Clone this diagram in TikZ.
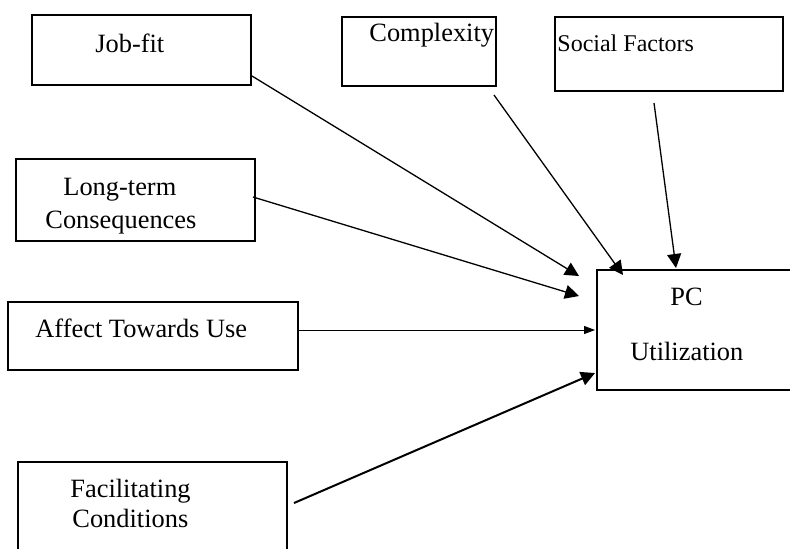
\documentclass[tikz,border=0pt]{standalone}
\usepackage{fontspec}
\setmainfont{Liberation Serif}
\usetikzlibrary{arrows.meta,calc}
\begin{document}
\begin{tikzpicture}[x=0.5pt,y=-0.5pt,
  box/.style={draw=black,line width=1pt,rectangle,inner sep=0pt,fill=none},
  lbl/.style={anchor=base west,inner sep=0pt,font=\fontsize{13.2}{15}\selectfont},
  lblsmall/.style={anchor=base west,inner sep=0pt,font=\fontsize{12}{14}\selectfont},
  link/.style={line width=0.65pt,-{Triangle[length=7pt,width=7pt]}},
  thinlink/.style={line width=0.5pt,-{Triangle[length=5.5pt,width=4pt]}},
  boldlink/.style={line width=1pt,-{Triangle[length=7pt,width=7pt]}}]
\useasboundingbox (0,0) rectangle (790,548);
\clip (0,0) rectangle (790,548);
\fill[white] (0,0) rectangle (790,548);

% construct boxes
\node[box,minimum width=109.5pt,minimum height=35pt] (jf) at (141.5,50) {};
\node[box,minimum width=77pt,minimum height=34.5pt] (cx) at (419,51.5) {};
\node[box,minimum width=114pt,minimum height=37pt] (sf) at (669,54) {};
\node[box,minimum width=119.5pt,minimum height=41pt] (lt) at (135.5,200) {};
\node[box,minimum width=145pt,minimum height=34pt] (au) at (153,336) {};
\node[box,minimum width=134.5pt,minimum height=49pt] (fc) at (152.5,511) {};
\node[box,minimum width=101.5pt,minimum height=60pt] (pc) at (698.5,330) {};

% box labels
\node[lbl] (jft) at (95,52) {Job-fit};
\node[lbl] (cxt) at (369,41) {Complexity};
\node[lblsmall] (sft) at (557,51) {Social Factors};
\node[lbl] (lt1) at (63,195) {Long-term};
\node[lbl] (lt2) at (45,228) {Consequences};
\node[lbl] (aut) at (35,337) {Affect Towards Use};
\node[lbl] (fc1) at (70,497) {Facilitating};
\node[lbl] (fc2) at (72,527) {Conditions};
\node[lbl] (pc1) at (670,305) {PC};
\node[lbl] (pc2) at (630,360) {Utilization};

% paths into PC Utilization
\draw[link] ($(jf.south east)+(0,-10)$) -- ($(pc.north west)+(-17,7)$);
\draw[link] ($(lt.east)+(-3,-3)$) -- ($(pc.north west)+(-17,27)$);
\draw[thinlink] ($(au.east)+(0,-6)$) -- ($(pc.west)+(-1,0)$);
\draw[boldlink] ($(fc.east)+(6,-8)$) -- ($(pc.south west)+(-1,-18)$);
\draw[link] ($(cx.south east)+(-3,8)$) -- ($(pc.north west)+(27,6)$);
\draw[link] ($(sf.south)+(-15,11)$) -- ($(pc.north west)+(80,-1)$);
\end{tikzpicture}
\end{document}
